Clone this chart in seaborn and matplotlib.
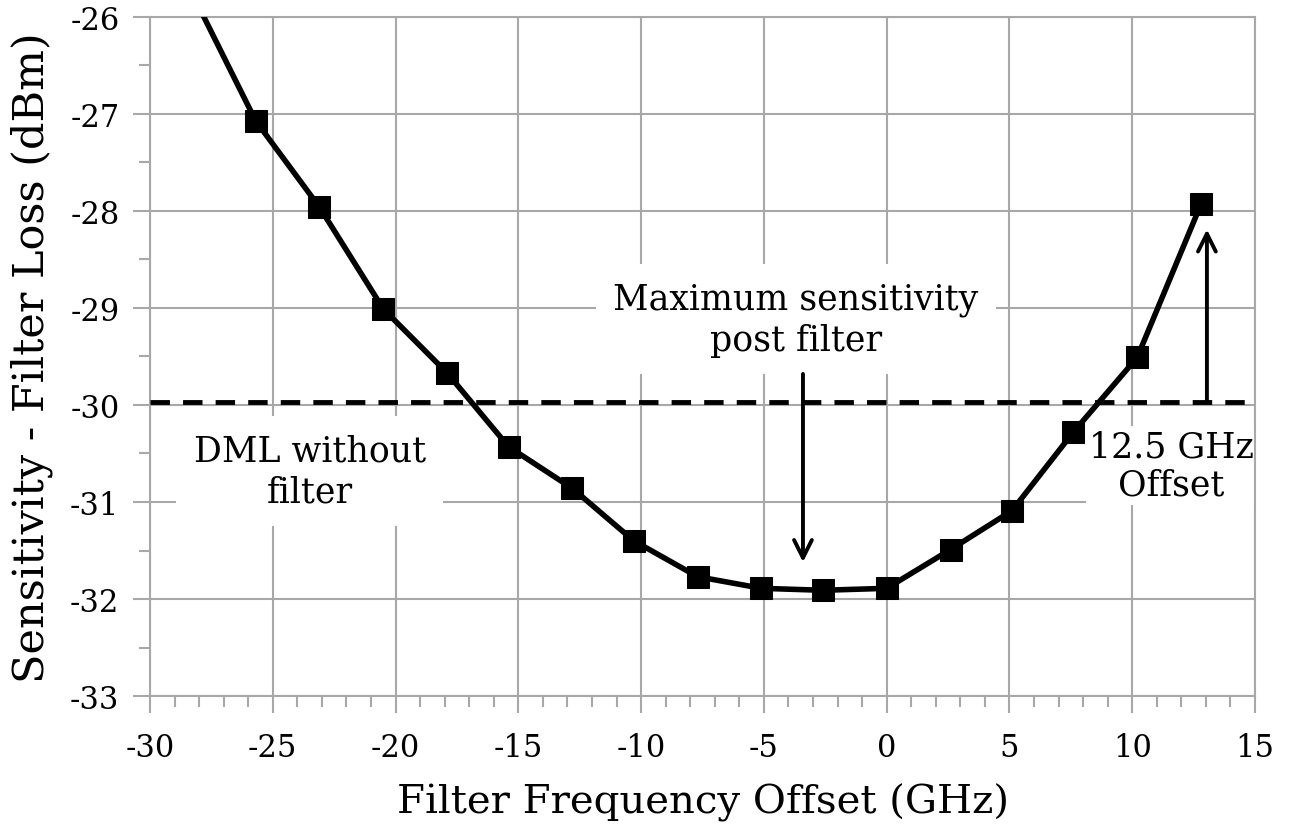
import numpy as np
import pandas as pd
import seaborn as sns
import matplotlib.pyplot as plt
from matplotlib.ticker import MultipleLocator

# data
offset_ghz = [-28.2, -25.7, -23.1, -20.5, -17.9, -15.4, -12.8, -10.3, -7.7,
              -5.1, -2.6, 0.0, 2.6, 5.1, 7.6, 10.2, 12.8]
sens_dbm = [-25.8, -27.07, -27.96, -29.01, -29.67, -30.43, -30.86, -31.40, -31.77,
            -31.89, -31.91, -31.89, -31.49, -31.09, -30.28, -29.51, -27.93]
dml_ref = -29.97

df = pd.DataFrame({'offset': offset_ghz, 'sens': sens_dbm})

sns.set_style('white')
plt.rcParams['font.family'] = ['DejaVu Serif']
plt.rcParams['axes.unicode_minus'] = False
plt.rcParams['text.color'] = 'black'
plt.rcParams['axes.labelcolor'] = 'black'
plt.rcParams['xtick.labelcolor'] = 'black'
plt.rcParams['ytick.labelcolor'] = 'black'

grid_col = '#a8a8a8'

fig = plt.figure(figsize=(12.9, 8.28), dpi=100)
ax = fig.add_axes([0.1163, 0.1582, 0.8566, 0.8201])

sns.lineplot(data=df, x='offset', y='sens', ax=ax, color='black', lw=4,
             marker='s', markersize=16, markeredgecolor='black', zorder=4)

ax.axhline(dml_ref, color='black', lw=3.5, ls=(0, (4.0, 2.7)), zorder=3)

ax.set_xlim(-30, 15)
ax.set_ylim(-33, -26)
ax.xaxis.set_major_locator(MultipleLocator(5))
ax.xaxis.set_minor_locator(MultipleLocator(1))
ax.yaxis.set_major_locator(MultipleLocator(1))
ax.yaxis.set_minor_locator(MultipleLocator(0.5))
ax.grid(True, which='major', color=grid_col, lw=1.5, zorder=0)
ax.set_axisbelow(True)
for s in ax.spines.values():
    s.set_color(grid_col)
    s.set_linewidth(1.5)
ax.tick_params(which='major', direction='out', length=12, width=1.5, color=grid_col,
               labelsize=22)
ax.tick_params(axis='x', which='major', pad=14)
ax.tick_params(axis='y', which='major', pad=10)
ax.tick_params(which='minor', direction='out', length=8, width=1.5, color=grid_col)
ax.tick_params(axis='x', which='both', bottom=True)
ax.tick_params(axis='y', which='both', left=True)

ax.set_xlabel('Filter Frequency Offset (GHz)', fontsize=29, labelpad=14)
ax.set_ylabel('Sensitivity - Filter Loss (dBm)', fontsize=31, labelpad=12)

box = dict(boxstyle='square,pad=0.5', fc='white', ec='none')
ax.text(-23.5, -30.68, 'DML without\nfilter', ha='center', va='center',
        fontsize=25, linespacing=1.25, bbox=box, zorder=2)
ax.text(-3.7, -29.12, 'Maximum sensitivity\npost filter', ha='center', va='center',
        fontsize=25, linespacing=1.25, bbox=box, zorder=2)
ax.text(11.6, -30.62, '12.5 GHz\nOffset', ha='center', va='center',
        fontsize=25, linespacing=1.15,
        bbox=dict(boxstyle='square,pad=0.1', fc='white', ec='none'), zorder=2)

arrow = dict(arrowstyle='->', lw=2.8, color='black', mutation_scale=32,
             shrinkA=0, shrinkB=0)
ax.annotate('', xy=(-3.41, -31.62), xytext=(-3.41, -29.68), arrowprops=arrow, zorder=5)
ax.annotate('', xy=(13.04, -28.19), xytext=(13.04, -29.97), arrowprops=arrow, zorder=5)

fig.savefig('out.png', dpi=100)
